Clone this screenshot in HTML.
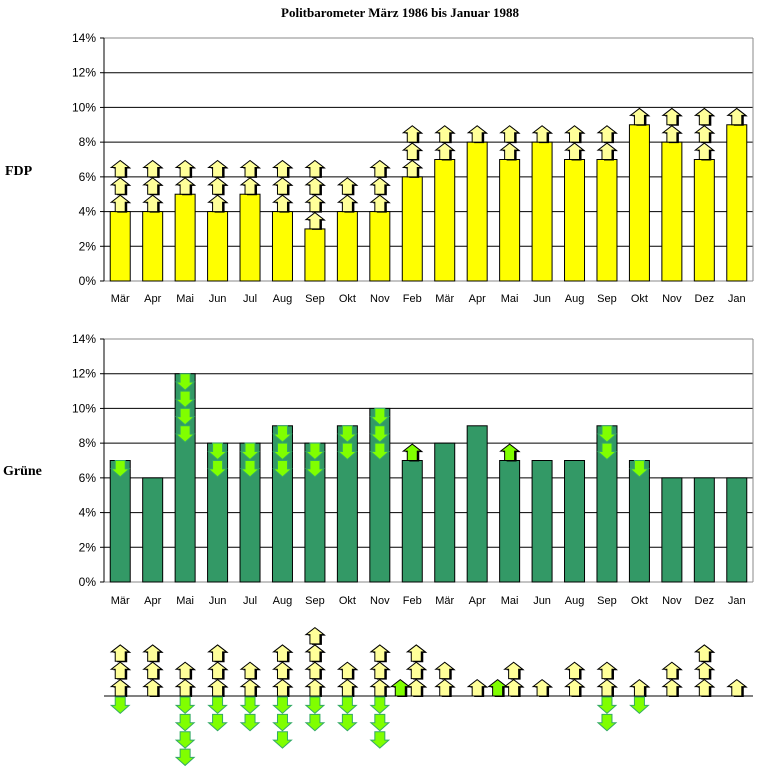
<!DOCTYPE html>
<html><head><meta charset="utf-8"><style>
body{margin:0;background:#fff;}
svg{display:block;}
.ax{font-family:"Liberation Sans",sans-serif;font-size:12px;}
.xl{font-family:"Liberation Sans",sans-serif;font-size:11px;}
.ser{font-family:"Liberation Serif",serif;font-weight:bold;}
</style></head><body>
<svg id="s" width="765" height="767" xmlns="http://www.w3.org/2000/svg"></svg>
<script>
var s=document.getElementById('s'),h='';
var X0=104,X1=753,step=(X1-X0)/20;
var months=["Mär","Apr","Mai","Jun","Jul","Aug","Sep","Okt","Nov","Feb","Mär","Apr","Mai","Jun","Aug","Sep","Okt","Nov","Dez","Jan"];
var fdp=[4,4,5,4,5,4,3,4,4,6,7,8,7,8,7,7,9,8,7,9];
var fup=[3,3,2,3,2,3,4,2,3,3,2,1,2,1,2,2,1,2,3,1];
var gr=[7,6,12,8,8,9,8,9,10,7,8,9,7,7,7,9,7,6,6,6];
var gdn=[1,0,4,2,2,3,2,2,3,0,0,0,0,0,0,2,1,0,0,0];
var gup=[0,0,0,0,0,0,0,0,0,1,0,0,1,0,0,0,0,0,0,0];
var U=243/14;
function cx(i){return X0+step*(i+0.5);}
function up(x,yb,fill,stroke){
 var t=yb-U+1;
 function p(dx,dy){return [[x-5,yb],[x-5,t+7],[x-9,t+7],[x,t],[x+9,t+7],[x+5,t+7],[x+5,yb]].map(function(q){return (q[0]+dx)+','+(q[1]+dy)}).join(' ');}
 return '<polygon points="'+p(2,1)+'" fill="#000"/><polygon points="'+p(0,0)+'" fill="'+fill+'" stroke="'+stroke+'" stroke-width="1"/>';
}
function down(x,yt){
 var b=yt+U-1;
 var pts=[[x-5,yt],[x+5,yt],[x+5,b-8],[x+9,b-8],[x,b],[x-9,b-8],[x-5,b-8]].map(function(q){return q.join(',')}).join(' ');
 return '<polygon points="'+pts+'" fill="#80ff00" stroke="#33aa66" stroke-width="1"/>';
}
function chart(top,vals,col,lblY){
 var bot=top+243;
 for(var k=0;k<=7;k++){
  var y=bot-k*2*U;
  if(k>0&&k<7)h+='<line x1="'+X0+'" x2="'+X1+'" y1="'+y+'" y2="'+y+'" stroke="#000"/>';
  h+='<text class="ax" x="96" y="'+(y+4)+'" text-anchor="end">'+(k*2)+'%</text>';
  h+='<line x1="'+(X0-4)+'" x2="'+X0+'" y1="'+y+'" y2="'+y+'" stroke="#000"/>';
 }
 h+='<line x1="'+X0+'" x2="'+X1+'" y1="'+top+'" y2="'+top+'" stroke="#888"/>';
 h+='<line x1="'+X1+'" x2="'+X1+'" y1="'+top+'" y2="'+bot+'" stroke="#888"/>';
 h+='<line x1="'+X0+'" x2="'+X1+'" y1="'+bot+'" y2="'+bot+'" stroke="#888"/>';
 h+='<line x1="'+X0+'" x2="'+X0+'" y1="'+top+'" y2="'+bot+'" stroke="#000"/>';
 for(var i=0;i<20;i++){
  var y=bot-vals[i]*U;
  h+='<rect x="'+(cx(i)-10)+'" y="'+y+'" width="20" height="'+(bot-y)+'" fill="'+col+'" stroke="#000"/>';
  h+='<text class="xl" x="'+cx(i)+'" y="'+lblY+'" text-anchor="middle">'+months[i]+'</text>';
 }
 return bot;
}
h+='<text class="ser" x="400" y="17" font-size="13" text-anchor="middle">Politbarometer März 1986 bis Januar 1988</text>';
h+='<text class="ser" x="5" y="175" font-size="14">FDP</text>';
h+='<text class="ser" x="3" y="475" font-size="14">Grüne</text>';
var b1=chart(38,fdp,'#ffff00',302);
for(var i=0;i<20;i++)for(var j=0;j<fup[i];j++)h+=up(cx(i),b1-fdp[i]*U-j*U,'#ffff99','#000');
var b2=chart(339,gr,'#339966',604);
for(var i=0;i<20;i++){
 for(var j=0;j<gdn[i];j++)h+=down(cx(i),b2-gr[i]*U+j*U);
 for(var j=0;j<gup[i];j++)h+=up(cx(i),b2-gr[i]*U,'#80ff00','#000');
}
var by=696;
h+='<line x1="'+X0+'" x2="'+X1+'" y1="'+by+'" y2="'+by+'" stroke="#000"/>';
for(var i=0;i<20;i++){
 var gx=gup[i]?-14:0;
 for(var j=0;j<fup[i];j++)h+=up(cx(i)+(gup[i]?4:0),by-j*U,'#ffff99','#000');
 if(gup[i])h+=up(cx(i)+gx+2,by,'#80ff00','#000');
 for(var j=0;j<gdn[i];j++)h+=down(cx(i),by+1+j*U);
}
s.innerHTML=h;
</script>
</body></html>
